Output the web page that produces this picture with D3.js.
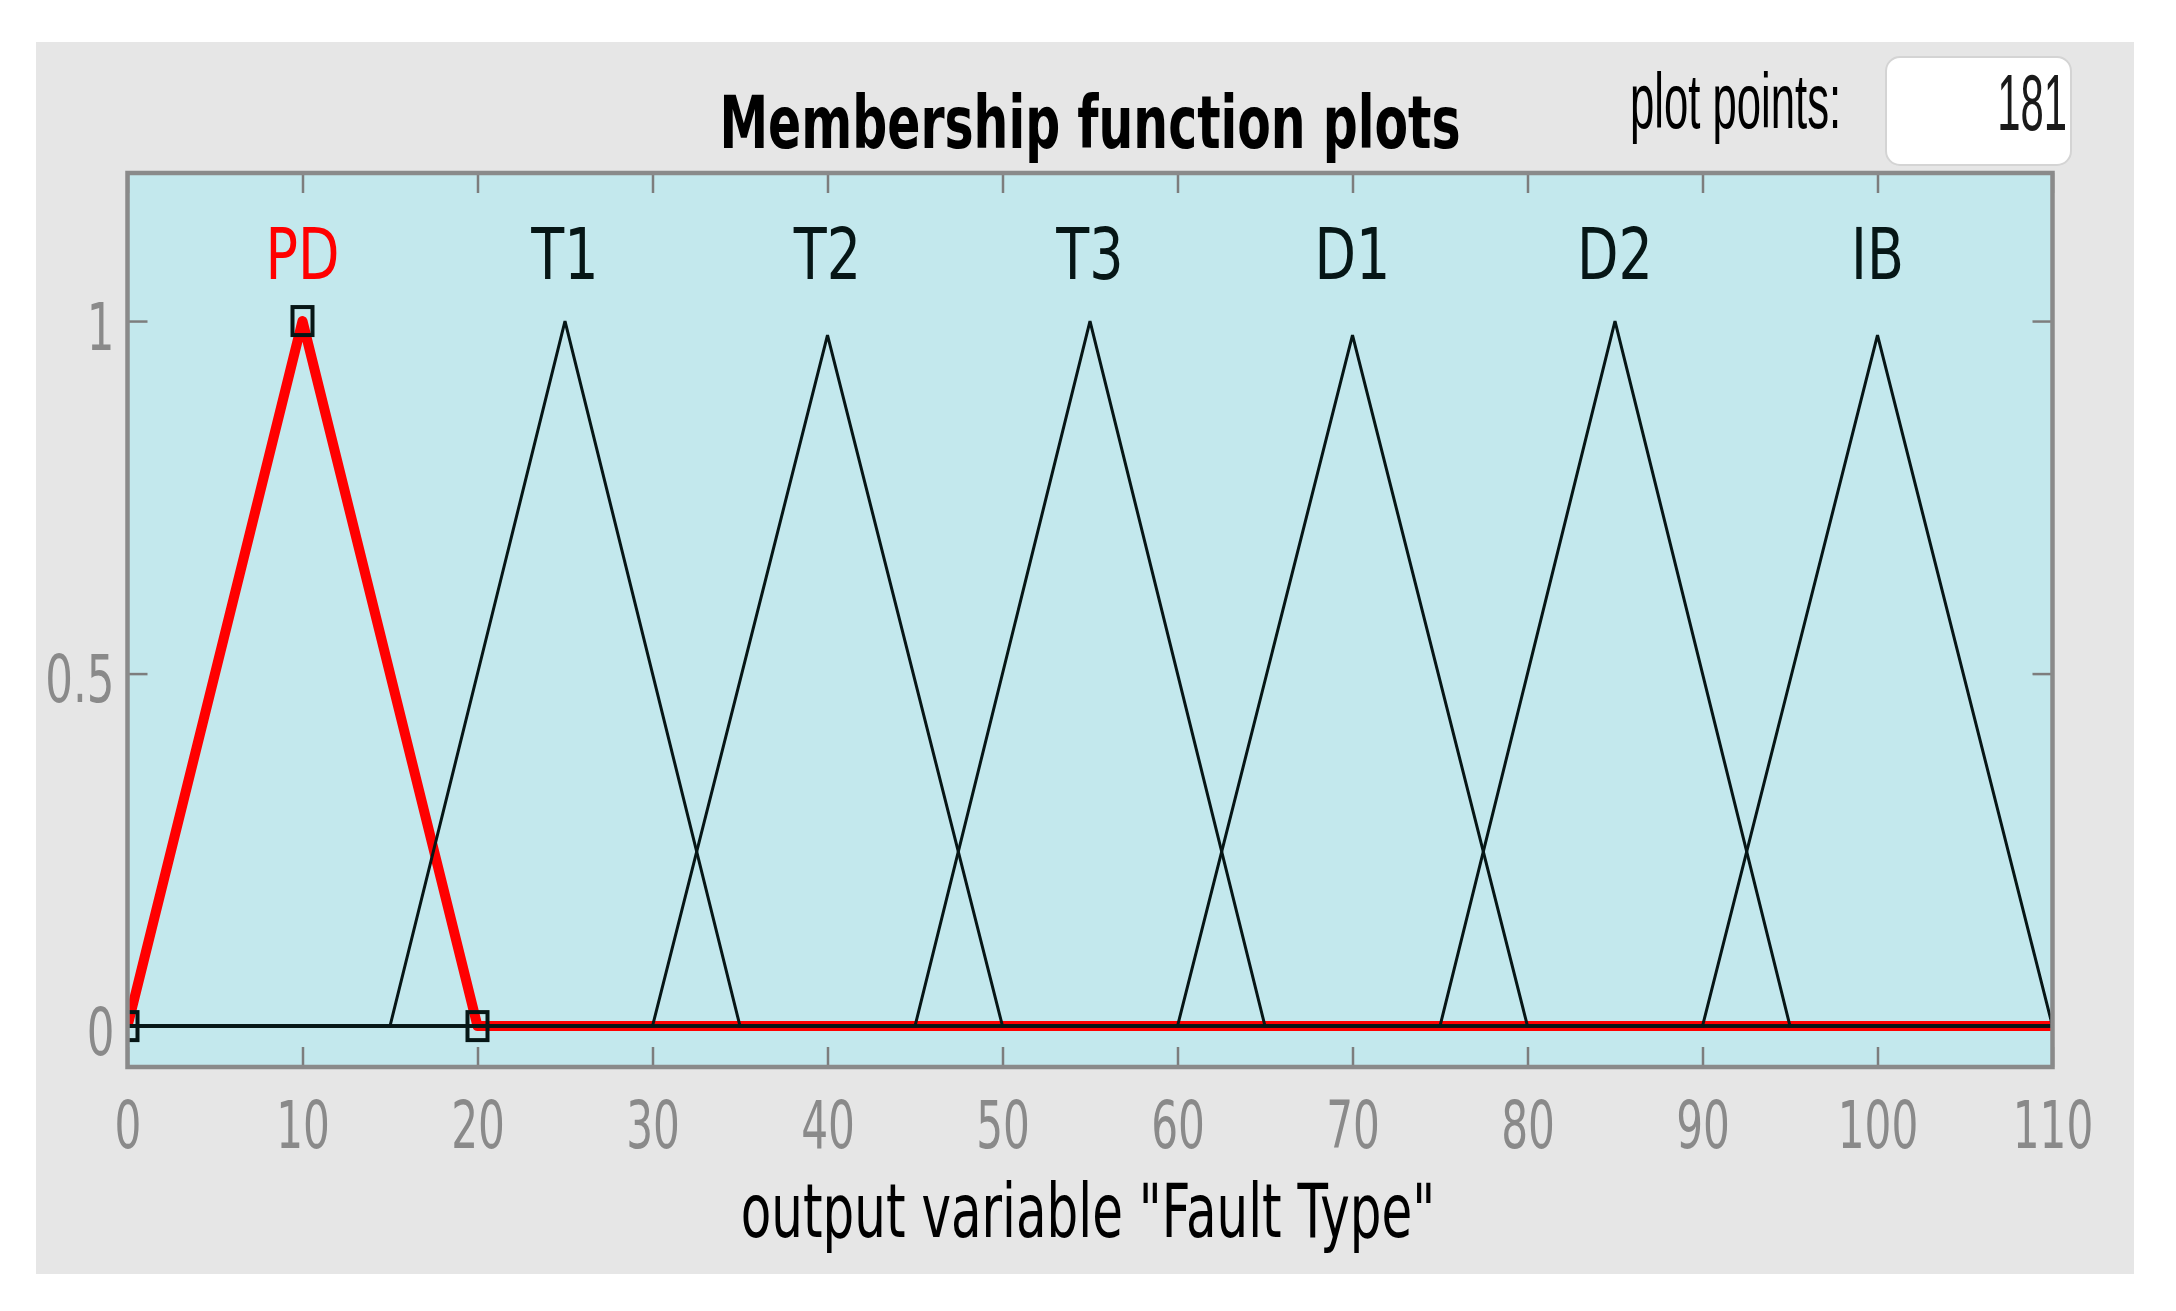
<!DOCTYPE html>
<html lang="en">
<head>
    <meta charset="UTF-8">
    <title>Membership function plots</title>
    <script src="https://d3js.org/d3.v7.min.js"></script>
    <style>
        body { margin: 0; background: white; }
    </style>
</head>
<body>
<svg id="main" width="2176" height="1311"></svg>
<script>
    // data
    let xTicks = [0, 10, 20, 30, 40, 50, 60, 70, 80, 90, 100, 110];
    let yTicks = [0, 0.5, 1];
    let outputRange = [0, 110];
    let mfNames  = ['PD', 'T1', 'T2', 'T3', 'D1', 'D2', 'IB'];
    let mfStart  = [0, 15, 30, 45, 60, 75, 90];
    let mfPeak   = [10, 25, 40, 55, 70, 85, 100];
    let mfEnd    = [20, 35, 50, 65, 80, 95, 110];
    let mfHeight = [1, 1, 0.98, 1, 0.98, 1, 0.98];
    let selectedMf = 'PD';
    let plotPoints = 181;
    let varName = 'Fault Type';

    let svg = d3.select('svg#main');

    // layout
    let plot = {left: 127.5, right: 2052.5, top: 173, bottom: 1067};
    let tickLen = 20;
    let dejavu = 'DejaVu Sans, sans-serif';

    // gray window panel
    svg.append('rect')
        .attr('x', 36).attr('y', 42)
        .attr('width', 2098).attr('height', 1232)
        .style('fill', '#e6e6e6');

    // scales
    let x = d3.scaleLinear().domain(outputRange).range([plot.left, plot.right]);
    let y = d3.scaleLinear().domain([-0.058, 1.21]).range([plot.bottom, plot.top]);

    // axes background
    svg.append('rect')
        .attr('x', plot.left).attr('y', plot.top)
        .attr('width', plot.right - plot.left).attr('height', plot.bottom - plot.top)
        .style('fill', '#c3e8ed');

    svg.append('clipPath').attr('id', 'clip')
        .append('rect')
        .attr('x', plot.left).attr('y', plot.top)
        .attr('width', plot.right - plot.left).attr('height', plot.bottom - plot.top);

    // inward ticks on all four sides
    function styleAxis(g) {
        g.select('.domain').remove();
        g.selectAll('.tick line').style('stroke', '#7d7d7d').style('stroke-width', 2.5);
    }
    let xAxis = svg.append('g')
        .attr('transform', 'translate(0,' + plot.bottom + ')')
        .call(d3.axisBottom(x).tickValues(xTicks).tickSize(-tickLen).tickFormat(d3.format('d')));
    styleAxis(xAxis);
    xAxis.selectAll('text')
        .attr('y', null).attr('dy', null)
        .attr('transform', 'translate(0,81) scale(0.64,1)')
        .style('font-family', dejavu).style('font-size', '66px')
        .style('fill', '#8a8a8a').style('text-anchor', 'middle');

    let xTop = svg.append('g')
        .attr('transform', 'translate(0,' + plot.top + ')')
        .call(d3.axisTop(x).tickValues(xTicks).tickSize(-tickLen).tickFormat(''));
    styleAxis(xTop);

    let yAxis = svg.append('g')
        .attr('transform', 'translate(' + plot.left + ',0)')
        .call(d3.axisLeft(y).tickValues(yTicks).tickSize(-tickLen).tickFormat(function (d) { return String(d); }));
    styleAxis(yAxis);
    yAxis.selectAll('text')
        .attr('x', null).attr('dy', null)
        .attr('transform', 'translate(-13,28) scale(0.66,1)')
        .style('font-family', dejavu).style('font-size', '66px')
        .style('fill', '#8a8a8a').style('text-anchor', 'end');

    let yRight = svg.append('g')
        .attr('transform', 'translate(' + plot.right + ',0)')
        .call(d3.axisRight(y).tickValues(yTicks).tickSize(-tickLen).tickFormat(''));
    styleAxis(yRight);

    // membership function lines
    let mfs = mfNames.map(function (name, i) {
        return {
            name: name,
            pts: [[outputRange[0], 0], [mfStart[i], 0], [mfPeak[i], mfHeight[i]],
                  [mfEnd[i], 0], [outputRange[1], 0]],
            verts: [[mfStart[i], 0], [mfPeak[i], mfHeight[i]], [mfEnd[i], 0]],
            peak: mfPeak[i]
        };
    });
    let line = d3.line()
        .x(function (d) { return x(d[0]); })
        .y(function (d) { return y(d[1]); });

    let fig = svg.append('g').attr('clip-path', 'url(#clip)');
    let sel = mfs.filter(function (d) { return d.name === selectedMf; });
    let others = mfs.filter(function (d) { return d.name !== selectedMf; });

    fig.selectAll('path.sel').data(sel).enter().append('path')
        .attr('class', 'sel')
        .attr('d', function (d) { return line(d.pts); })
        .style('fill', 'none').style('stroke', '#ff0000')
        .style('stroke-width', 10).style('stroke-linejoin', 'round');

    fig.selectAll('path.mf').data(others).enter().append('path')
        .attr('class', 'mf')
        .attr('d', function (d) { return line(d.pts); })
        .style('fill', 'none').style('stroke', '#061616')
        .style('stroke-width', 3);

    // vertex markers of the selected function
    fig.selectAll('rect.vert').data(sel[0].verts).enter().append('rect')
        .attr('class', 'vert')
        .attr('x', function (d) { return x(d[0]) - 10; })
        .attr('y', function (d) { return y(d[1]) - 14; })
        .attr('width', 20).attr('height', 28)
        .style('fill', 'none').style('stroke', '#061616').style('stroke-width', 4);

    // function names
    svg.selectAll('text.mfname').data(mfs).enter().append('text')
        .attr('class', 'mfname')
        .attr('transform', function (d) {
            return 'translate(' + x(d.peak) + ',' + y(1.06) + ') scale(0.76,1)';
        })
        .style('text-anchor', 'middle')
        .style('font-family', dejavu).style('font-size', '71px')
        .style('fill', function (d) { return d.name === selectedMf ? '#ff0000' : '#061616'; })
        .text(function (d) { return d.name; });

    // frame
    svg.append('rect')
        .attr('x', plot.left).attr('y', plot.top)
        .attr('width', plot.right - plot.left).attr('height', plot.bottom - plot.top)
        .style('fill', 'none').style('stroke', '#8a8a8a').style('stroke-width', 4.5);

    // titles
    svg.append('text')
        .attr('transform', 'translate(1090,148) scale(0.67,1)')
        .style('text-anchor', 'middle')
        .style('font-family', dejavu).style('font-size', '73px').style('font-weight', 'bold')
        .style('fill', '#000')
        .text('Membership function plots');

    svg.append('text')
        .attr('transform', 'translate(1088,1237) scale(0.675,1)')
        .style('text-anchor', 'middle')
        .style('font-family', dejavu).style('font-size', '74px')
        .style('fill', '#000')
        .text('output variable "' + varName + '"');

    // plot points field
    svg.append('text')
        .attr('transform', 'translate(1630,128) scale(0.56,1)')
        .style('font-family', 'Liberation Sans, Arial, sans-serif').style('font-size', '78px')
        .style('fill', '#000')
        .text('plot points:');

    svg.append('rect')
        .attr('x', 1886).attr('y', 57)
        .attr('width', 185).attr('height', 108).attr('rx', 14)
        .style('fill', '#ffffff').style('stroke', '#d4d4d4').style('stroke-width', 2);

    svg.append('text')
        .attr('transform', 'translate(2067,130) scale(0.53,1)')
        .style('text-anchor', 'end')
        .style('font-family', 'Liberation Sans, Arial, sans-serif').style('font-size', '79px')
        .style('fill', '#1a1a1a')
        .text(plotPoints);
</script>
</body>
</html>
